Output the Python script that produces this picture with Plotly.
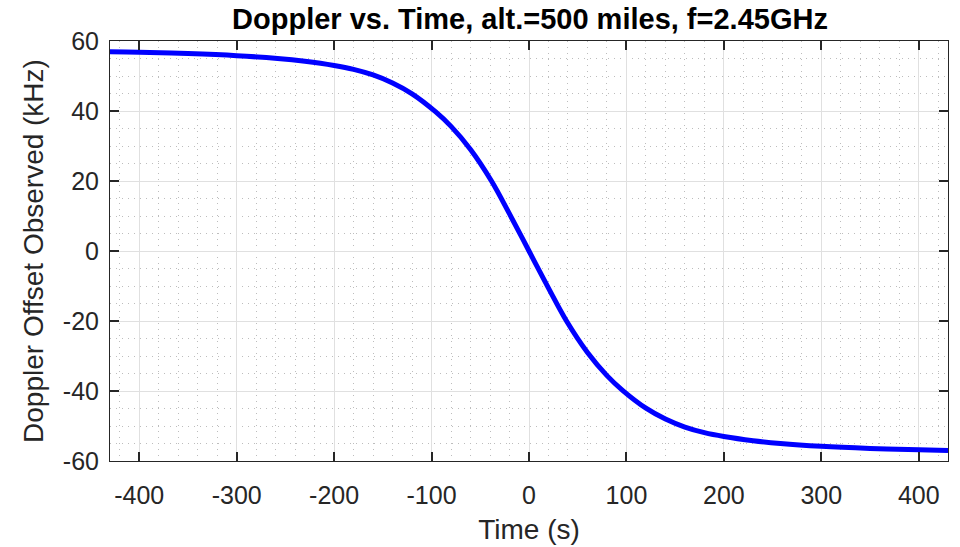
import plotly.graph_objects as go

# Time (s) and observed Doppler offset (kHz)
time_s = [-430, -400, -350, -300, -258, -230, -200, -180, -160, -140, -120, -96, -80, -60, -38.5, -20, 0,
          20, 38.5, 60, 80, 96, 120, 140, 160, 180, 200, 230, 258, 300, 350, 400, 430]
doppler_khz = [56.9, 56.8, 56.4, 55.8, 55.0, 54.2, 53.0, 51.9, 50.3, 48.0, 44.9, 39.8, 35.6, 29.0, 20.0, 10.6, 0.0,
               -10.6, -20.0, -29.0, -35.6, -39.8, -44.9, -48.0, -50.3, -51.9, -53.0, -54.2, -55.0, -55.8, -56.4, -56.8, -57.0]

x_ticks = [-400, -300, -200, -100, 0, 100, 200, 300, 400]
y_ticks = [-60, -40, -20, 0, 20, 40, 60]

FONT = "Liberation Sans, Arial, sans-serif"
AX = "#262626"
MINOR = dict(showgrid=True, gridcolor="#bdbdbd", griddash="1px,5px", gridwidth=1)

fig = go.Figure()
fig.add_trace(go.Scatter(x=time_s, y=doppler_khz, mode="lines",
                         line=dict(color="#0000ff", width=5, shape="spline", smoothing=1.0),
                         showlegend=False))

common = dict(showline=True, linecolor=AX, linewidth=1, mirror="ticks",
              ticks="inside", ticklen=9, tickcolor=AX, tickwidth=1.5,
              showgrid=True, gridcolor="#e0e0e0", gridwidth=1, zeroline=False,
              automargin=False,
              tickfont=dict(family=FONT, size=25, color=AX))

W, H = 960, 547
fig.update_layout(
    width=W, height=H,
    margin=dict(l=110, r=12, t=41, b=86),
    paper_bgcolor="white", plot_bgcolor="white",
    title=dict(text="<b>Doppler vs. Time, alt.=500 miles, f=2.45GHz</b>",
               x=530 / W, xanchor="center", y=1 - 19 / H, yanchor="middle",
               yref="container", font=dict(family=FONT, size=29, color="black")),
    xaxis=dict(range=[-430, 430], tickvals=x_ticks, ticktext=[str(v) for v in x_ticks],
               ticklabelstandoff=12,
               title=dict(text="Time (s)", font=dict(family=FONT, size=28, color=AX), standoff=11),
               minor=dict(dtick=20, tick0=0, **MINOR),
               **common),
    yaxis=dict(range=[-60, 60], tickvals=y_ticks, ticktext=[str(v) for v in y_ticks],
               ticklabelstandoff=5,
               title=dict(text="Doppler Offset Observed (kHz)", font=dict(family=FONT, size=28, color=AX), standoff=11),
               minor=dict(dtick=5, tick0=0, **MINOR),
               **common),
)

# remove the default page margin so the figure fills the window exactly
fig.write_html("out.html", config={"displayModeBar": False},
               post_script="document.body.style.margin='0';document.body.style.padding='0';")
